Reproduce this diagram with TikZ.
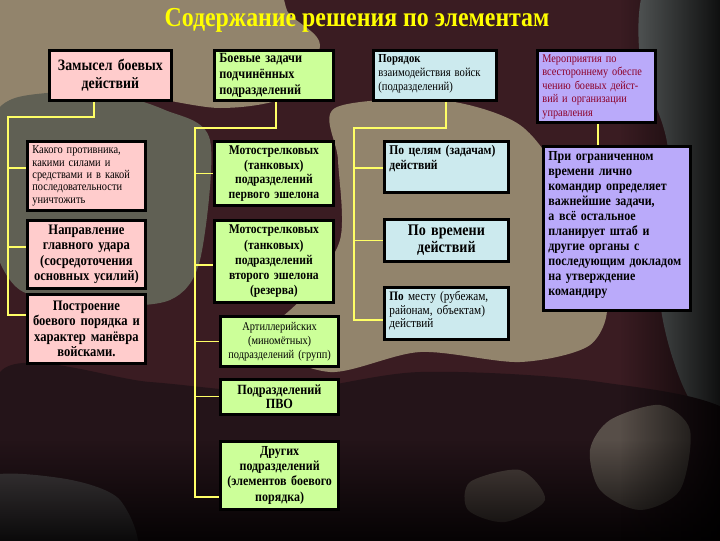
\documentclass[tikz,border=0pt]{standalone}
\usepackage{fontspec}
\setmainfont{Liberation Serif}[FakeStretch=0.87]
\usetikzlibrary{fadings}
\definecolor{camobase}{RGB}{58,28,34}
\definecolor{camodark}{RGB}{36,20,25}
\definecolor{camotan}{RGB}{146,132,108}
\definecolor{camogrey}{RGB}{96,96,84}
\definecolor{camoslate}{RGB}{92,96,96}
\definecolor{camomud}{RGB}{100,92,84}
\definecolor{boxpink}{RGB}{255,204,204}
\definecolor{boxgreen}{RGB}{204,255,153}
\definecolor{boxblue}{RGB}{204,234,238}
\definecolor{boxlilac}{RGB}{186,170,250}
\definecolor{textmaroon}{RGB}{140,0,40}
\definecolor{linkyellow}{RGB}{255,255,102}
\definecolor{titleyellow}{RGB}{255,255,0}
\newlength\pxu
\setlength\pxu{0.025cm}
\tikzset{
    box/.style={draw=black, line width=2pt, anchor=north west,
        inner xsep=3pt, inner ysep=2pt, align=center},
    pinkbox/.style={box, fill=boxpink},
    greenbox/.style={box, fill=boxgreen},
    bluebox/.style={box, fill=boxblue},
    lilacbox/.style={box, fill=boxlilac},
    link/.style={draw=linkyellow, line width=0.8pt},
}
\begin{document}
\begin{tikzpicture}[x=0.025cm, y=-0.025cm]
    \useasboundingbox (0,0) rectangle (720,540);

    % camouflage background
    \begin{scope}
        \clip (0,0) rectangle (720,540);
        \fill[camobase] (0,0) rectangle (720,540);
        \fill[camotan] plot[smooth cycle] coordinates {(-20,-20) (250,-20) (290,15) (320,45)
            (290,95) (220,108) (120,95) (40,118) (-20,140)};
        \fill[camogrey] plot[smooth cycle] coordinates {(15,98) (100,92) (165,110) (210,140)
            (200,260) (170,300) (100,305) (20,290) (-10,230) (-10,130)};
        \fill[camotan] plot[smooth cycle] coordinates {(335,108) (440,100) (520,125) (560,185)
            (545,260) (605,300) (590,345) (520,362) (420,352) (330,372) (262,342)
            (300,300) (340,240) (338,160)};
        \fill[camoslate] plot[smooth cycle] coordinates {(650,-20) (740,-20) (740,430)
            (690,400) (660,300) (668,150) (640,60)};
        \fill[camodark] plot[smooth cycle] coordinates {(0,372) (150,382) (280,392) (420,372)
            (600,382) (740,420) (740,560) (0,560)};
        \fill[camomud!80!camodark] plot[smooth cycle] coordinates {(610,420) (660,405)
            (690,430) (680,490) (640,510) (600,490) (590,450)};
        \fill[camomud!65!camodark] plot[smooth cycle] coordinates {(470,482) (520,470)
            (545,500) (505,522) (468,510)};
        \fill[camoslate!55!camodark] plot[smooth cycle] coordinates {(-20,480) (60,478)
            (120,500) (130,560) (-20,560)};
        \fill[black, path fading=north] (0,440) rectangle (720,560);
        \fill[black, path fading=west] (620,0) rectangle (740,540);
    \end{scope}

    \node[font=\bfseries\fontsize{19.5}{22}\selectfont, text=titleyellow] (title) at (357,20)
        {Содержание решения по элементам};

    % top row
    \node[pinkbox, minimum width=122\pxu, minimum height=50\pxu, text width=112\pxu,
        font=\bfseries\fontsize{11.3}{12.8}\selectfont] (zam) at (48,49)
        {Замысел боевых\\действий};
    \node[greenbox, minimum width=119\pxu, minimum height=50\pxu, text width=109\pxu,
        align=left, font=\bfseries\fontsize{10}{11.4}\selectfont] (zad) at (213,49)
        {Боевые задачи\\подчинённых\\подразделений};
    \node[bluebox, minimum width=123\pxu, minimum height=50\pxu, text width=113\pxu,
        align=left, font=\fontsize{8.7}{10}\selectfont] (por) at (372,49)
        {\parbox[c][42\pxu][t]{113\pxu}{\textbf{Порядок}\\взаимодействия войск\\(подразделений)}};
    \node[lilacbox, minimum width=118\pxu, minimum height=72\pxu, text width=108\pxu,
        align=left, text=textmaroon, font=\fontsize{8.4}{9.6}\selectfont] (mer) at (536,49)
        {Мероприятия по\\всестороннему обеспе\\чению боевых дейст-\\вий и организации\\управления};

    % first column
    \node[pinkbox, minimum width=118\pxu, minimum height=69\pxu, text width=108\pxu,
        align=left, font=\fontsize{8.5}{8.8}\selectfont] (kak) at (26,140)
        {Какого противника,\\какими силами и\\средствами и в какой\\последовательности\\уничтожить};
    \node[pinkbox, minimum width=118\pxu, minimum height=68\pxu, text width=108\pxu,
        font=\bfseries\fontsize{10.3}{11}\selectfont] (nap) at (26,219)
        {Направление\\главного удара\\(сосредоточения\\основных усилий)};
    \node[pinkbox, minimum width=118\pxu, minimum height=69\pxu, text width=108\pxu,
        font=\bfseries\fontsize{10.3}{11}\selectfont] (pst) at (26,293)
        {Построение\\боевого порядка и\\характер манёвра\\войсками.};

    % second column
    \node[greenbox, minimum width=119\pxu, minimum height=64\pxu, text width=109\pxu,
        font=\bfseries\fontsize{9.5}{10.3}\selectfont] (ms1) at (213,140)
        {Мотострелковых\\(танковых)\\подразделений\\первого эшелона};
    \node[greenbox, minimum width=119\pxu, minimum height=82\pxu, text width=109\pxu,
        font=\bfseries\fontsize{9.5}{10.8}\selectfont] (ms2) at (213,219)
        {Мотострелковых\\(танковых)\\подразделений\\второго эшелона\\(резерва)};
    \node[greenbox, minimum width=118\pxu, minimum height=50\pxu, text width=110\pxu,
        font=\fontsize{8.5}{10}\selectfont] (art) at (219,315)
        {Артиллерийских\\(миномётных)\\подразделений (групп)};
    \node[greenbox, minimum width=118\pxu, minimum height=35\pxu, text width=108\pxu,
        font=\bfseries\fontsize{10}{10}\selectfont] (pvo) at (219,378)
        {Подразделений\\ПВО};
    \node[greenbox, minimum width=118\pxu, minimum height=68\pxu, text width=110\pxu,
        font=\bfseries\fontsize{9.8}{10.7}\selectfont] (dru) at (219,440)
        {Других\\подразделений\\(элементов боевого\\порядка)};

    % third column
    \node[bluebox, minimum width=124\pxu, minimum height=51\pxu, text width=114\pxu,
        align=left, font=\bfseries\fontsize{9.5}{10.7}\selectfont] (cel) at (383,140)
        {\parbox[c][43\pxu][t]{114\pxu}{По целям (задачам)\\действий}};
    \node[bluebox, minimum width=124\pxu, minimum height=42\pxu, text width=114\pxu,
        font=\bfseries\fontsize{11.5}{12}\selectfont] (vre) at (383,218)
        {По времени\\действий};
    \node[bluebox, minimum width=124\pxu, minimum height=52\pxu, text width=114\pxu,
        align=left, font=\fontsize{9.2}{9.6}\selectfont] (mes) at (383,286)
        {\parbox[c][44\pxu][t]{114\pxu}{\textbf{По} месту (рубежам,\\районам, объектам)\\действий}};

    % fourth column
    \node[lilacbox, minimum width=147\pxu, minimum height=164\pxu, text width=137\pxu,
        align=left, font=\bfseries\fontsize{9.8}{10.7}\selectfont] (pri) at (542,145)
        {\parbox[c][154\pxu][t]{137\pxu}{При ограниченном\\времени лично\\командир определяет\\важнейшие задачи,\\а всё остальное\\планирует штаб и\\другие органы с\\последующим докладом\\на утверждение\\командиру}};

    % connectors
    \coordinate (za) at (94,117);
    \coordinate (zb) at (8,117);
    \coordinate (zc) at (8,315);
    \draw[link] (zam.south -| za) -- (za) -- (zb) -- (zc) -- (zc -| pst.west);
    \draw[link] (zb |- 0,168) -- (kak.west |- 0,168);
    \draw[link] (zb |- 0,247) -- (nap.west |- 0,247);

    \coordinate (da) at (276,128);
    \coordinate (db) at (195,128);
    \coordinate (dc) at (195,497);
    \draw[link] (zad.south -| da) -- (da) -- (db) -- (dc) -- (dc -| dru.west);
    \draw[link] (db |- ms1.west) -- (ms1.west);
    \draw[link] (db |- 0,265) -- (ms2.west |- 0,265);
    \draw[link] (db |- art.west) -- (art.west);
    \draw[link] (db |- pvo.west) -- (pvo.west);

    \coordinate (pa) at (446,128);
    \coordinate (pb) at (354,128);
    \coordinate (pc) at (354,320);
    \draw[link] (por.south -| pa) -- (pa) -- (pb) -- (pc) -- (pc -| mes.west);
    \draw[link] (pb |- 0,168) -- (cel.west |- 0,168);
    \draw[link] (pb |- vre.west) -- (vre.west);

    \draw[link] (mer.south -| 598,0) -- (pri.north -| 598,0);
\end{tikzpicture}
\end{document}
